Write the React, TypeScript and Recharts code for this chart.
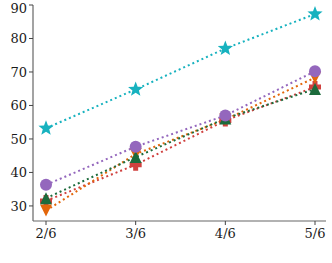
import React from 'react';
import { LineChart, Line, XAxis, YAxis } from 'recharts';

const categories = ['2/6', '3/6', '4/6', '5/6'];
const starSeries = [53.2, 64.8, 77.0, 87.3];
const circleSeries = [36.3, 47.7, 57.0, 70.2];
const downSeries = [28.6, 45.5, 55.8, 68.3];
const plusSeries = [31.5, 42.3, 55.5, 65.5];
const upSeries = [32.3, 44.6, 56.1, 64.9];
const yTicks = [30, 40, 50, 60, 70, 80, 90];

const data = categories.map((c, i) => ({
  name: c,
  star: starSeries[i],
  circle: circleSeries[i],
  down: downSeries[i],
  plus: plusSeries[i],
  up: upSeries[i],
}));

const Star = ({ cx, cy, fill }: any) => {
  const pts: string[] = [];
  for (let k = 0; k < 10; k++) {
    const r = k % 2 === 0 ? 8 : 3.4;
    const a = -Math.PI / 2 + (k * Math.PI) / 5;
    pts.push(`${cx + r * Math.cos(a)},${cy + r * Math.sin(a)}`);
  }
  return <polygon points={pts.join(' ')} fill={fill} />;
};
const Circle = ({ cx, cy, fill }: any) => <circle cx={cx} cy={cy} r={6} fill={fill} />;
const Down = ({ cx, cy, fill }: any) => (
  <polygon points={`${cx - 6},${cy - 6} ${cx + 6},${cy - 6} ${cx},${cy + 6}`} fill={fill} />
);
const Up = ({ cx, cy, fill }: any) => (
  <polygon points={`${cx - 6},${cy + 6} ${cx + 6},${cy + 6} ${cx},${cy - 6}`} fill={fill} />
);
const Plus = ({ cx, cy, fill }: any) => (
  <path
    d={`M${cx - 2.5},${cy - 6}h5v3.5h3.5v5h-3.5v3.5h-5v-3.5h-3.5v-5h3.5z`}
    fill={fill}
  />
);

const series = [
  { key: 'plus', color: '#d0413f', Shape: Plus },
  { key: 'down', color: '#e3660a', Shape: Down },
  { key: 'up', color: '#1c6b3c', Shape: Up },
  { key: 'circle', color: '#9467bd', Shape: Circle },
  { key: 'star', color: '#17b2bf', Shape: Star },
];

const tickStyle = { fill: '#1a1a1a', fontSize: 13, fontFamily: 'DejaVu Serif' };

export default function App() {
  return (
    <div style={{ position: 'absolute', left: 0, top: 0 }}>
      <LineChart width={332} height={263} data={data} margin={{ top: 5, right: 6, bottom: 0, left: 0 }}>
        <XAxis
          dataKey="name"
          padding={{ left: 13, right: 11 }}
          tick={tickStyle}
          tickLine={{ stroke: '#444' }}
          axisLine={{ stroke: '#666', strokeWidth: 1.2 }}
          height={42}
          tickSize={4}
          tickMargin={4}
          interval={0}
        />
        <XAxis
          xAxisId="top"
          orientation="top"
          dataKey="name"
          tick={false}
          tickLine={false}
          axisLine={{ stroke: '#666', strokeWidth: 1.2 }}
          height={0}
        />
        <YAxis
          domain={[25.5, 90]}
          ticks={yTicks}
          allowDataOverflow
          tick={tickStyle}
          tickLine={{ stroke: '#444' }}
          axisLine={{ stroke: '#666', strokeWidth: 1.2 }}
          width={33}
          tickSize={4}
        />
        <YAxis
          yAxisId="right"
          orientation="right"
          tick={false}
          tickLine={false}
          axisLine={{ stroke: '#666', strokeWidth: 1.2 }}
          width={0}
        />
        {series.map(({ key, color, Shape }) => (
          <Line
            key={key}
            dataKey={key}
            stroke={color}
            strokeWidth={2}
            strokeDasharray="2 3"
            isAnimationActive={false}
            dot={(p: any) => <Shape key={`${key}-${p.index}`} cx={p.cx} cy={p.cy} fill={color} />}
            activeDot={false}
          />
        ))}
      </LineChart>
    </div>
  );
}
